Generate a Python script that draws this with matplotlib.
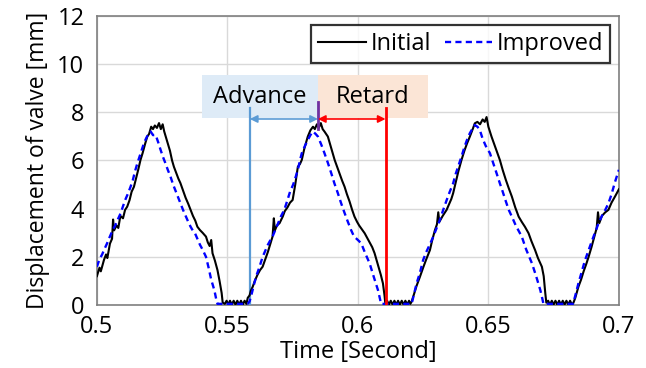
import numpy as np
import matplotlib.pyplot as plt
from matplotlib.patches import Rectangle

plt.rcParams['font.family'] = ['Open Sans', 'DejaVu Sans']

# Initial valve displacement (time [s], displacement [mm])
t_init = [0.5000, 0.5010, 0.5015, 0.5027, 0.5035, 0.5040, 0.5050, 0.5058, 0.5062, 0.5066,
          0.5075, 0.5082, 0.5090, 0.5100, 0.5108, 0.5116, 0.5125, 0.5133, 0.5142, 0.5150,
          0.5158, 0.5167, 0.5175, 0.5185, 0.5193, 0.5200, 0.5208, 0.5215, 0.5222, 0.5230,
          0.5238, 0.5245, 0.5252, 0.5258, 0.5265, 0.5272, 0.5280, 0.5288, 0.5295, 0.5305,
          0.5312, 0.5320, 0.5330, 0.5340, 0.5350, 0.5359, 0.5368, 0.5377, 0.5385, 0.5395,
          0.5405, 0.5418, 0.5425, 0.5432, 0.5438, 0.5443, 0.5452, 0.5462, 0.5470, 0.5478,
          0.5482, 0.5490, 0.5497, 0.5503, 0.5510, 0.5517, 0.5524, 0.5531, 0.5538, 0.5545,
          0.5552, 0.5559, 0.5566, 0.5573, 0.5578, 0.5585, 0.5590, 0.5597, 0.5605, 0.5615,
          0.5625, 0.5635, 0.5645, 0.5655, 0.5665, 0.5673, 0.5678, 0.5682, 0.5690, 0.5700,
          0.5712, 0.5720, 0.5730, 0.5740, 0.5750, 0.5760, 0.5770, 0.5778, 0.5785, 0.5795,
          0.5808, 0.5818, 0.5828, 0.5835, 0.5843, 0.5850, 0.5858, 0.5865, 0.5872, 0.5885,
          0.5898, 0.5911, 0.5920, 0.5930, 0.5940, 0.5949, 0.5958, 0.5968, 0.5978, 0.5987,
          0.5997, 0.6005, 0.6015, 0.6026, 0.6035, 0.6045, 0.6055, 0.6064, 0.6072, 0.6080,
          0.6088, 0.6096, 0.6102, 0.6105, 0.6112, 0.6119, 0.6126, 0.6133, 0.6140, 0.6147,
          0.6154, 0.6161, 0.6168, 0.6175, 0.6182, 0.6189, 0.6196, 0.6201, 0.6206, 0.6215,
          0.6225, 0.6238, 0.6250, 0.6262, 0.6276, 0.6285, 0.6295, 0.6303, 0.6308, 0.6312,
          0.6325, 0.6340, 0.6350, 0.6358, 0.6365, 0.6375, 0.6385, 0.6397, 0.6408, 0.6418,
          0.6429, 0.6440, 0.6448, 0.6458, 0.6468, 0.6478, 0.6486, 0.6493, 0.6500, 0.6512,
          0.6525, 0.6535, 0.6544, 0.6555, 0.6567, 0.6578, 0.6590, 0.6603, 0.6616, 0.6628,
          0.6640, 0.6654, 0.6665, 0.6679, 0.6690, 0.6705, 0.6712, 0.6718, 0.6722, 0.6729,
          0.6736, 0.6743, 0.6750, 0.6757, 0.6764, 0.6771, 0.6778, 0.6785, 0.6792, 0.6799,
          0.6806, 0.6813, 0.6820, 0.6826, 0.6833, 0.6845, 0.6855, 0.6865, 0.6875, 0.6884,
          0.6895, 0.6905, 0.6915, 0.6920, 0.6925, 0.6935, 0.6948, 0.6960, 0.6972, 0.6985,
          0.7000]
v_init = [1.20, 1.55, 1.40, 1.87, 2.10, 1.95, 2.55, 2.75, 3.55, 3.10,
          3.30, 3.20, 3.70, 3.60, 3.95, 4.08, 4.35, 4.70, 4.91, 5.25,
          5.60, 6.02, 6.30, 6.70, 6.99, 7.10, 7.40, 7.30, 7.45, 7.35,
          7.55, 7.30, 7.50, 7.20, 6.95, 6.70, 6.40, 6.00, 5.74, 5.45,
          5.25, 5.06, 4.75, 4.45, 4.20, 3.95, 3.70, 3.50, 3.25, 3.11,
          3.00, 2.84, 2.60, 2.45, 2.70, 2.15, 1.85, 1.45, 1.00, 0.50,
          0.10, 0.05, 0.18, 0.02, 0.18, 0.02, 0.18, 0.02, 0.18, 0.02,
          0.18, 0.02, 0.18, 0.05, 0.30, 0.40, 0.60, 0.76, 1.00, 1.25,
          1.45, 1.59, 1.90, 2.20, 2.55, 2.84, 3.60, 3.10, 3.30, 3.40,
          3.67, 3.90, 4.05, 4.25, 4.36, 5.00, 5.74, 5.85, 6.02, 6.50,
          6.99, 7.25, 7.40, 7.30, 7.50, 7.35, 7.55, 7.30, 7.20, 6.99,
          6.50, 6.02, 5.75, 5.45, 5.15, 4.91, 4.60, 4.30, 3.95, 3.67,
          3.45, 3.30, 3.15, 2.98, 2.80, 2.60, 2.40, 2.15, 1.85, 1.55,
          1.25, 0.90, 0.40, 0.08, 0.18, 0.02, 0.18, 0.02, 0.18, 0.02,
          0.18, 0.02, 0.18, 0.02, 0.18, 0.02, 0.18, 0.05, 0.14, 0.45,
          0.80, 1.18, 1.55, 1.90, 2.28, 2.70, 3.10, 3.35, 3.85, 3.45,
          3.70, 3.95, 4.20, 4.40, 4.64, 5.10, 5.55, 6.02, 6.40, 6.70,
          6.99, 7.30, 7.54, 7.60, 7.50, 7.70, 7.60, 7.80, 7.40, 6.99,
          6.60, 6.30, 6.02, 5.60, 5.19, 4.85, 4.50, 4.05, 3.67, 3.45,
          3.25, 2.98, 2.65, 2.28, 1.95, 1.59, 1.20, 0.50, 0.10, 0.18,
          0.02, 0.18, 0.02, 0.18, 0.02, 0.18, 0.02, 0.18, 0.02, 0.18,
          0.02, 0.18, 0.02, 0.10, 0.30, 0.76, 1.05, 1.40, 1.70, 2.00,
          2.40, 2.80, 3.20, 3.85, 3.40, 3.70, 3.85, 3.95, 4.25, 4.50,
          4.80]

# Improved valve displacement
t_impr = [0.5000, 0.5010, 0.5020, 0.5030, 0.5039, 0.5050, 0.5060, 0.5070, 0.5080, 0.5091,
          0.5100, 0.5110, 0.5120, 0.5129, 0.5138, 0.5146, 0.5155, 0.5163, 0.5172, 0.5180,
          0.5190, 0.5198, 0.5206, 0.5215, 0.5225, 0.5235, 0.5244, 0.5253, 0.5262, 0.5272,
          0.5282, 0.5292, 0.5301, 0.5310, 0.5320, 0.5330, 0.5340, 0.5350, 0.5359, 0.5367,
          0.5375, 0.5385, 0.5395, 0.5405, 0.5418, 0.5428, 0.5438, 0.5450, 0.5458, 0.5462,
          0.5520, 0.5577, 0.5585, 0.5595, 0.5603, 0.5612, 0.5622, 0.5635, 0.5645, 0.5655,
          0.5665, 0.5673, 0.5685, 0.5695, 0.5706, 0.5718, 0.5730, 0.5740, 0.5752, 0.5762,
          0.5770, 0.5778, 0.5785, 0.5797, 0.5808, 0.5818, 0.5828, 0.5838, 0.5847, 0.5860,
          0.5872, 0.5885, 0.5898, 0.5910, 0.5923, 0.5936, 0.5948, 0.5960, 0.5974, 0.5985,
          0.6000, 0.6013, 0.6028, 0.6045, 0.6060, 0.6077, 0.6085, 0.6089, 0.6150, 0.6206,
          0.6215, 0.6225, 0.6238, 0.6250, 0.6262, 0.6275, 0.6289, 0.6300, 0.6313, 0.6327,
          0.6340, 0.6352, 0.6365, 0.6375, 0.6386, 0.6397, 0.6408, 0.6418, 0.6429, 0.6438,
          0.6448, 0.6458, 0.6467, 0.6478, 0.6490, 0.6506, 0.6520, 0.6532, 0.6544, 0.6552,
          0.6567, 0.6578, 0.6590, 0.6605, 0.6628, 0.6645, 0.6667, 0.6683, 0.6699, 0.6706,
          0.6711, 0.6770, 0.6824, 0.6832, 0.6845, 0.6858, 0.6870, 0.6884, 0.6898, 0.6910,
          0.6922, 0.6935, 0.6948, 0.6960, 0.6972, 0.6985, 0.7000]
v_impr = [1.59, 1.90, 2.10, 2.35, 2.56, 2.85, 3.10, 3.30, 3.55, 3.81,
          4.10, 4.40, 4.65, 4.91, 5.20, 5.55, 5.88, 6.15, 6.45, 6.71,
          6.95, 7.10, 7.20, 7.05, 7.06, 6.75, 6.44, 6.15, 5.90, 5.60,
          5.33, 5.00, 4.75, 4.50, 4.22, 3.95, 3.70, 3.45, 3.25, 3.10,
          3.00, 2.75, 2.50, 2.30, 2.00, 1.55, 1.05, 0.62, 0.20, 0.05,
          0.05, 0.05, 0.15, 0.55, 0.90, 1.25, 1.55, 2.00, 2.25, 2.50,
          2.70, 2.84, 3.15, 3.40, 3.70, 3.95, 4.35, 4.70, 5.00, 5.33,
          5.61, 6.00, 6.30, 6.60, 6.85, 7.05, 7.20, 7.10, 6.99, 6.65,
          6.30, 5.90, 5.47, 5.05, 4.65, 4.22, 3.85, 3.50, 3.11, 2.85,
          2.70, 2.56, 2.15, 1.73, 1.20, 0.62, 0.25, 0.05, 0.05, 0.05,
          0.45, 0.90, 1.35, 1.87, 2.20, 2.50, 2.84, 3.15, 3.50, 3.95,
          4.35, 4.70, 5.05, 5.45, 5.80, 6.16, 6.55, 6.85, 7.13, 7.30,
          7.47, 7.40, 7.27, 6.90, 6.60, 6.30, 5.85, 5.45, 5.05, 4.80,
          4.30, 3.95, 3.67, 3.30, 2.84, 2.30, 1.73, 1.20, 0.62, 0.30,
          0.05, 0.05, 0.05, 0.35, 0.90, 1.40, 1.85, 2.28, 2.70, 3.05,
          3.39, 3.70, 3.95, 4.22, 4.60, 5.10, 5.61]

x_ticks = [0.5, 0.55, 0.6, 0.65, 0.7]
x_labels = ['0.5', '0.55', '0.6', '0.65', '0.7']
y_ticks = [0, 2, 4, 6, 8, 10, 12]

# timing markers
t_advance = 0.5586
t_peak = 0.5847
t_retard = 0.6106

fig = plt.figure(figsize=(6.46, 3.68), dpi=100)
ax = fig.add_axes([0.150, 0.171, 0.808, 0.786])

ax.add_patch(Rectangle((0.5402, 7.76), t_peak - 0.5402, 1.78, facecolor='#DEEBF7',
                       edgecolor='none', zorder=1))
ax.add_patch(Rectangle((t_peak, 7.76), 0.6268 - t_peak, 1.78, facecolor='#FBE5D6',
                       edgecolor='none', zorder=1))
ax.text((0.5402 + t_peak) / 2, 8.62, 'Advance', ha='center', va='center', fontsize=17, zorder=2)
ax.text((t_peak + 0.6268) / 2, 8.62, 'Retard', ha='center', va='center', fontsize=17, zorder=2)

ax.plot(t_init, v_init, color='black', lw=1.5, label='Initial', zorder=4)
ax.plot(t_impr, v_impr, color='#0000FF', lw=1.7, ls=(0, (2.6, 1.8)), label='Improved', zorder=5)

ax.plot([t_advance, t_advance], [0, 8.17], color='#5B9BD5', lw=1.6, zorder=3)
ax.plot([t_retard, t_retard], [0, 8.17], color='#FF0000', lw=2.0, zorder=6)
ax.plot([t_peak, t_peak], [7.3, 8.42], color='#7030A0', lw=2.0, zorder=6)
ax.annotate('', xy=(t_advance, 7.72), xytext=(t_peak, 7.72),
            arrowprops=dict(arrowstyle='<|-|>', color='#5B9BD5', lw=1.2,
                            shrinkA=0, shrinkB=0, mutation_scale=11), zorder=6)
ax.annotate('', xy=(t_peak, 7.72), xytext=(t_retard, 7.72),
            arrowprops=dict(arrowstyle='<|-|>', color='#FF0000', lw=1.2,
                            shrinkA=0, shrinkB=0, mutation_scale=11), zorder=6)

ax.set_xlim(0.5, 0.7)
ax.set_ylim(0, 12)
ax.set_xticks(x_ticks)
ax.set_xticklabels(x_labels)
ax.set_yticks(y_ticks)
ax.tick_params(axis='x', length=0, labelsize=17, pad=7)
ax.tick_params(axis='y', length=0, labelsize=17, pad=9)
ax.grid(color='#D9D9D9', lw=1.0, zorder=0)
ax.set_axisbelow(True)
for s in ax.spines.values():
    s.set_color('#7F7F7F')
    s.set_linewidth(1.2)

ax.set_xlabel('Time [Second]', fontsize=17, labelpad=1)
ax.set_ylabel('Displacement of valve [mm]', fontsize=16.5, labelpad=5)

leg = ax.legend(loc='upper right', ncol=2, fontsize=17, frameon=True, fancybox=False,
                handlelength=2.0, handletextpad=0.2, columnspacing=0.6,
                borderpad=0.3, borderaxespad=0.2, bbox_to_anchor=(0.993, 0.985))
leg.get_frame().set_edgecolor('black')
leg.get_frame().set_linewidth(1.6)

fig.savefig('out.png', dpi=100)
